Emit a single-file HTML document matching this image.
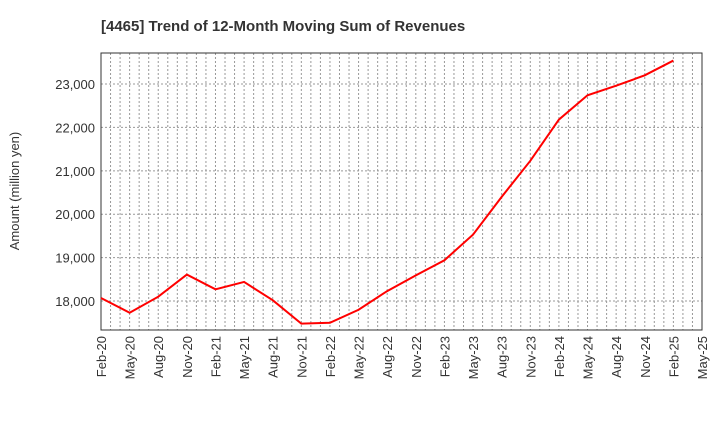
<!DOCTYPE html>
<html><head><meta charset="utf-8"><style>
body{margin:0;background:#fff;font-family:"Liberation Sans",Arial,sans-serif}
</style></head><body>
<svg id="c" width="720" height="440" xmlns="http://www.w3.org/2000/svg">
<text x="101" y="31" text-anchor="start" font-size="15" font-weight="bold" fill="#333">[4465]  Trend of 12-Month Moving Sum of Revenues</text>
<text transform="translate(19,191) rotate(-90)" text-anchor="middle" font-size="13" fill="#333">Amount (million yen)</text>
<g id="grid"></g><g id="axes"></g><g id="series"></g>
</svg>
<script>
const categories=["Feb-20","May-20","Aug-20","Nov-20","Feb-21","May-21","Aug-21","Nov-21","Feb-22","May-22","Aug-22","Nov-22","Feb-23","May-23","Aug-23","Nov-23","Feb-24","May-24","Aug-24","Nov-24","Feb-25"];
const revenues=[18070,17730,18100,18610,18270,18440,18020,17480,17500,17800,18230,18590,18940,19530,20400,21230,22180,22740,22960,23200,23540];
const xTickLabels=["Feb-20","May-20","Aug-20","Nov-20","Feb-21","May-21","Aug-21","Nov-21","Feb-22","May-22","Aug-22","Nov-22","Feb-23","May-23","Aug-23","Nov-23","Feb-24","May-24","Aug-24","Nov-24","Feb-25","May-25"];
const yTicks=[18000,19000,20000,21000,22000,23000];
const L=101,R=702,T=53,B=330,yMin=17333,yMax=23714;
const NS="http://www.w3.org/2000/svg";
const xs=i=>L+(R-L)*i/(xTickLabels.length-1);
const ys=v=>B-(v-yMin)/(yMax-yMin)*(B-T);
function mk(p,t,a){const e=document.createElementNS(NS,t);for(const k in a)e.setAttribute(k,a[k]);document.getElementById(p).appendChild(e);return e;}
const months=(xTickLabels.length-1)*3;
for(let m=1;m<months;m++){const x=L+(R-L)*m/months;
const g=mk("grid","line",{x1:x,x2:x,y1:T,y2:B,stroke:"#999","stroke-dasharray":"2,2","stroke-width":1});

}
yTicks.forEach(v=>{const y=ys(v);
const g=mk("grid","line",{x1:L,x2:R,y1:y,y2:y,stroke:"#999","stroke-dasharray":"2,2","stroke-width":1});


const t=mk("axes","text",{x:L-6,y:y+5,"text-anchor":"end","font-size":"13",fill:"#333"});t.textContent=v.toLocaleString("en-US");

});
xTickLabels.forEach((s,i)=>{const x=xs(i);
const t=mk("axes","text",{transform:`translate(${x+5},${B+6}) rotate(-90)`,"text-anchor":"end","font-size":"13",fill:"#333"});t.textContent=s;

});
const fr=mk("axes","rect",{x:L,y:T,width:R-L,height:B-T,fill:"none",stroke:"#333","stroke-width":1});


const pl=mk("series","polyline",{points:revenues.map((v,i)=>xs(i)+","+ys(v)).join(" "),fill:"none",stroke:"#f00","stroke-width":2});


</script>
</body></html>
